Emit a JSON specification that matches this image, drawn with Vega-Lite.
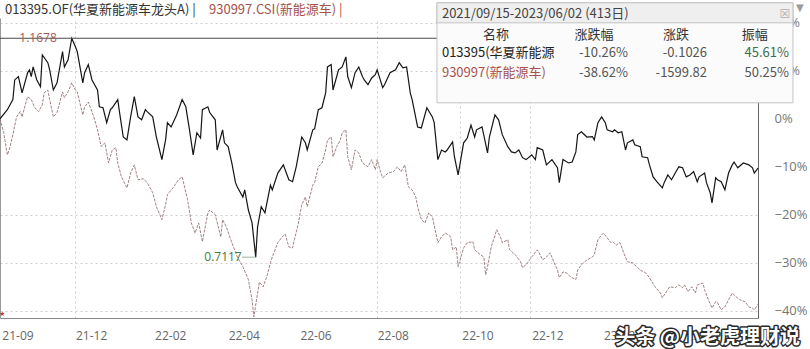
{
  "$schema": "https://vega.github.io/schema/vega-lite/v6.json",
  "width": 758,
  "height": 300,
  "autosize": {"type": "none"},
  "padding": {"left": 0, "top": 18, "right": 52, "bottom": 31},
  "background": "#ffffff",
  "config": {"view": {"stroke": null}, "font": "Noto Sans CJK SC"},
  "datasets": {
    "fund": [
      {"i":0,"v":1.0},{"i":4,"v":1.019},{"i":7,"v":1.04},{"i":8,"v":1.081},{"i":10,"v":1.088},{"i":12,"v":1.054},{"i":15,"v":1.096},{"i":16,"v":1.102},{"i":17,"v":1.088},{"i":18,"v":1.108},{"i":20,"v":1.081},{"i":22,"v":1.067},{"i":23,"v":1.133},{"i":26,"v":1.117},{"i":27,"v":1.102},{"i":29,"v":1.06},{"i":31,"v":1.075},{"i":34,"v":1.14},{"i":35,"v":1.108},{"i":37,"v":1.123},{"i":39,"v":1.1678},{"i":41,"v":1.15},{"i":42,"v":1.14},{"i":45,"v":1.075},{"i":46,"v":1.096},{"i":48,"v":1.113},{"i":50,"v":1.081},{"i":53,"v":1.06},{"i":54,"v":1.025},{"i":56,"v":1.023},{"i":58,"v":0.992},{"i":60,"v":1.019},{"i":61,"v":1.023},{"i":64,"v":1.04},{"i":65,"v":1.013},{"i":67,"v":0.962},{"i":69,"v":0.956},{"i":71,"v":1.004},{"i":73,"v":1.046},{"i":75,"v":1.004},{"i":77,"v":0.998},{"i":79,"v":1.019},{"i":80,"v":1.015},{"i":83,"v":1.004},{"i":85,"v":0.962},{"i":88,"v":0.915},{"i":90,"v":0.956},{"i":91,"v":0.992},{"i":93,"v":0.983},{"i":96,"v":1.008},{"i":99,"v":1.04},{"i":101,"v":1.025},{"i":103,"v":0.977},{"i":105,"v":0.925},{"i":107,"v":0.971},{"i":109,"v":0.96},{"i":110,"v":1.019},{"i":113,"v":1.025},{"i":114,"v":1.013},{"i":117,"v":0.998},{"i":118,"v":0.935},{"i":121,"v":0.977},{"i":122,"v":0.95},{"i":124,"v":0.942},{"i":126,"v":0.908},{"i":128,"v":0.867},{"i":129,"v":0.858},{"i":132,"v":0.837},{"i":133,"v":0.852},{"i":135,"v":0.81},{"i":137,"v":0.783},{"i":139,"v":0.7117},{"i":140,"v":0.775},{"i":142,"v":0.817},{"i":144,"v":0.804},{"i":147,"v":0.862},{"i":148,"v":0.852},{"i":151,"v":0.887},{"i":154,"v":0.904},{"i":155,"v":0.894},{"i":157,"v":0.873},{"i":159,"v":0.869},{"i":161,"v":0.9},{"i":164,"v":0.962},{"i":166,"v":0.95},{"i":167,"v":0.935},{"i":170,"v":0.977},{"i":171,"v":0.979},{"i":173,"v":1.019},{"i":175,"v":1.023},{"i":177,"v":1.054},{"i":178,"v":1.108},{"i":180,"v":1.113},{"i":181,"v":1.06},{"i":184,"v":1.102},{"i":186,"v":1.108},{"i":188,"v":1.129},{"i":189,"v":1.088},{"i":191,"v":1.065},{"i":193,"v":1.096},{"i":195,"v":1.108},{"i":197,"v":1.088},{"i":198,"v":1.081},{"i":200,"v":1.071},{"i":202,"v":1.085},{"i":204,"v":1.092},{"i":205,"v":1.102},{"i":208,"v":1.065},{"i":209,"v":1.071},{"i":212,"v":1.096},{"i":215,"v":1.102},{"i":217,"v":1.117},{"i":219,"v":1.106},{"i":221,"v":1.108},{"i":223,"v":1.054},{"i":224,"v":1.04},{"i":227,"v":0.983},{"i":229,"v":0.981},{"i":232,"v":1.023},{"i":235,"v":1.004},{"i":236,"v":0.992},{"i":238,"v":0.915},{"i":240,"v":0.935},{"i":242,"v":0.931},{"i":243,"v":0.935},{"i":246,"v":0.952},{"i":247,"v":0.921},{"i":249,"v":0.883},{"i":252,"v":0.95},{"i":254,"v":0.96},{"i":256,"v":0.987},{"i":258,"v":0.962},{"i":259,"v":0.977},{"i":262,"v":0.983},{"i":265,"v":0.929},{"i":266,"v":0.962},{"i":269,"v":1.008},{"i":271,"v":0.998},{"i":273,"v":0.967},{"i":276,"v":0.942},{"i":278,"v":0.931},{"i":280,"v":0.929},{"i":282,"v":0.935},{"i":284,"v":0.919},{"i":286,"v":0.915},{"i":289,"v":0.925},{"i":291,"v":0.915},{"i":292,"v":0.94},{"i":295,"v":0.935},{"i":297,"v":0.904},{"i":300,"v":0.915},{"i":303,"v":0.898},{"i":304,"v":0.867},{"i":306,"v":0.915},{"i":309,"v":0.908},{"i":311,"v":0.91},{"i":313,"v":0.931},{"i":314,"v":0.967},{"i":316,"v":0.973},{"i":319,"v":0.962},{"i":322,"v":0.963},{"i":323,"v":0.956},{"i":325,"v":0.992},{"i":327,"v":1.004},{"i":329,"v":0.992},{"i":330,"v":0.977},{"i":333,"v":0.973},{"i":334,"v":0.977},{"i":336,"v":0.971},{"i":338,"v":0.973},{"i":340,"v":0.935},{"i":341,"v":0.95},{"i":344,"v":0.956},{"i":345,"v":0.946},{"i":348,"v":0.942},{"i":349,"v":0.921},{"i":352,"v":0.919},{"i":353,"v":0.904},{"i":355,"v":0.879},{"i":357,"v":0.869},{"i":360,"v":0.856},{"i":361,"v":0.867},{"i":363,"v":0.883},{"i":365,"v":0.873},{"i":367,"v":0.887},{"i":369,"v":0.9},{"i":371,"v":0.898},{"i":373,"v":0.879},{"i":375,"v":0.883},{"i":377,"v":0.89},{"i":379,"v":0.869},{"i":380,"v":0.879},{"i":383,"v":0.887},{"i":384,"v":0.867},{"i":386,"v":0.846},{"i":387,"v":0.825},{"i":389,"v":0.877},{"i":390,"v":0.873},{"i":392,"v":0.869},{"i":394,"v":0.852},{"i":396,"v":0.887},{"i":398,"v":0.904},{"i":399,"v":0.91},{"i":401,"v":0.898},{"i":404,"v":0.908},{"i":407,"v":0.904},{"i":409,"v":0.898},{"i":410,"v":0.887},{"i":412,"v":0.8974}
    ],
    "idx": [
      {"i":0,"v":1.0},{"i":2,"v":0.971},{"i":4,"v":0.925},{"i":5,"v":0.935},{"i":7,"v":0.967},{"i":9,"v":1.004},{"i":11,"v":1.015},{"i":12,"v":1.004},{"i":14,"v":1.033},{"i":15,"v":1.046},{"i":17,"v":1.04},{"i":19,"v":1.023},{"i":21,"v":1.015},{"i":23,"v":1.029},{"i":24,"v":1.054},{"i":26,"v":1.06},{"i":27,"v":1.04},{"i":29,"v":1.004},{"i":31,"v":1.013},{"i":34,"v":1.056},{"i":35,"v":1.044},{"i":37,"v":1.056},{"i":39,"v":1.075},{"i":41,"v":1.06},{"i":42,"v":1.056},{"i":45,"v":1.008},{"i":46,"v":1.025},{"i":48,"v":1.035},{"i":51,"v":1.004},{"i":53,"v":0.977},{"i":55,"v":0.942},{"i":57,"v":0.95},{"i":59,"v":0.908},{"i":61,"v":0.935},{"i":63,"v":0.94},{"i":64,"v":0.908},{"i":66,"v":0.879},{"i":69,"v":0.856},{"i":71,"v":0.887},{"i":73,"v":0.904},{"i":75,"v":0.873},{"i":78,"v":0.875},{"i":80,"v":0.867},{"i":83,"v":0.846},{"i":85,"v":0.817},{"i":88,"v":0.79},{"i":90,"v":0.821},{"i":91,"v":0.842},{"i":94,"v":0.856},{"i":97,"v":0.873},{"i":99,"v":0.879},{"i":102,"v":0.831},{"i":104,"v":0.783},{"i":106,"v":0.762},{"i":108,"v":0.783},{"i":110,"v":0.744},{"i":113,"v":0.804},{"i":114,"v":0.81},{"i":117,"v":0.8},{"i":120,"v":0.754},{"i":121,"v":0.79},{"i":123,"v":0.775},{"i":126,"v":0.742},{"i":129,"v":0.712},{"i":132,"v":0.692},{"i":135,"v":0.665},{"i":137,"v":0.623},{"i":138,"v":0.5875},{"i":140,"v":0.637},{"i":141,"v":0.66},{"i":143,"v":0.65},{"i":145,"v":0.671},{"i":147,"v":0.7},{"i":148,"v":0.712},{"i":151,"v":0.742},{"i":153,"v":0.752},{"i":155,"v":0.76},{"i":157,"v":0.733},{"i":159,"v":0.731},{"i":160,"v":0.748},{"i":162,"v":0.779},{"i":164,"v":0.821},{"i":166,"v":0.837},{"i":167,"v":0.817},{"i":170,"v":0.862},{"i":171,"v":0.867},{"i":173,"v":0.9},{"i":175,"v":0.908},{"i":177,"v":0.935},{"i":178,"v":0.956},{"i":180,"v":0.962},{"i":181,"v":0.921},{"i":183,"v":0.942},{"i":185,"v":0.956},{"i":186,"v":0.971},{"i":188,"v":0.977},{"i":189,"v":0.921},{"i":191,"v":0.894},{"i":193,"v":0.935},{"i":195,"v":0.929},{"i":197,"v":0.908},{"i":200,"v":0.9},{"i":202,"v":0.915},{"i":204,"v":0.894},{"i":205,"v":0.915},{"i":207,"v":0.887},{"i":208,"v":0.877},{"i":211,"v":0.887},{"i":214,"v":0.89},{"i":216,"v":0.9},{"i":218,"v":0.89},{"i":220,"v":0.904},{"i":222,"v":0.858},{"i":224,"v":0.852},{"i":226,"v":0.837},{"i":227,"v":0.817},{"i":229,"v":0.79},{"i":231,"v":0.783},{"i":233,"v":0.804},{"i":235,"v":0.796},{"i":238,"v":0.742},{"i":240,"v":0.754},{"i":242,"v":0.762},{"i":245,"v":0.754},{"i":246,"v":0.727},{"i":248,"v":0.733},{"i":249,"v":0.692},{"i":252,"v":0.731},{"i":254,"v":0.742},{"i":257,"v":0.744},{"i":258,"v":0.727},{"i":261,"v":0.717},{"i":263,"v":0.712},{"i":264,"v":0.675},{"i":265,"v":0.692},{"i":267,"v":0.733},{"i":270,"v":0.769},{"i":272,"v":0.754},{"i":273,"v":0.742},{"i":276,"v":0.748},{"i":277,"v":0.727},{"i":280,"v":0.717},{"i":283,"v":0.702},{"i":284,"v":0.69},{"i":286,"v":0.696},{"i":289,"v":0.712},{"i":292,"v":0.727},{"i":293,"v":0.721},{"i":295,"v":0.706},{"i":297,"v":0.712},{"i":299,"v":0.721},{"i":301,"v":0.702},{"i":303,"v":0.685},{"i":304,"v":0.669},{"i":306,"v":0.681},{"i":308,"v":0.679},{"i":310,"v":0.671},{"i":313,"v":0.665},{"i":314,"v":0.685},{"i":316,"v":0.696},{"i":319,"v":0.706},{"i":322,"v":0.712},{"i":323,"v":0.717},{"i":325,"v":0.748},{"i":327,"v":0.758},{"i":328,"v":0.762},{"i":330,"v":0.752},{"i":332,"v":0.742},{"i":333,"v":0.744},{"i":335,"v":0.737},{"i":337,"v":0.742},{"i":339,"v":0.721},{"i":341,"v":0.702},{"i":344,"v":0.7},{"i":346,"v":0.692},{"i":348,"v":0.685},{"i":351,"v":0.679},{"i":353,"v":0.669},{"i":356,"v":0.65},{"i":359,"v":0.637},{"i":360,"v":0.627},{"i":363,"v":0.644},{"i":364,"v":0.65},{"i":367,"v":0.648},{"i":369,"v":0.654},{"i":371,"v":0.648},{"i":372,"v":0.654},{"i":374,"v":0.64},{"i":376,"v":0.65},{"i":378,"v":0.637},{"i":379,"v":0.654},{"i":382,"v":0.658},{"i":383,"v":0.644},{"i":385,"v":0.623},{"i":387,"v":0.606},{"i":389,"v":0.619},{"i":390,"v":0.617},{"i":392,"v":0.602},{"i":394,"v":0.608},{"i":396,"v":0.623},{"i":398,"v":0.637},{"i":399,"v":0.633},{"i":402,"v":0.623},{"i":405,"v":0.619},{"i":407,"v":0.608},{"i":409,"v":0.606},{"i":410,"v":0.602},{"i":412,"v":0.6138}
    ],
    "summary": [
      {"name":"013395(华夏新能源","pct":"-10.26%","chg":"-0.1026","amp":"45.61%"},
      {"name":"930997(新能源车)","pct":"-38.62%","chg":"-1599.82","amp":"50.25%"}
    ],
    "header": [
      {"period":"2021/09/15-2023/06/02 (413日)","c0":"名称","c1":"涨跌幅","c2":"涨跌","c3":"振幅","wm":"头条 @小老虎理财说"}
    ]
  },
  "layer": [
    {
      "data": {"name": "idx"},
      "mark": {"type": "line", "strokeWidth": 0.85, "strokeDash": [3, 1.2]},
      "encoding": {
        "x": {"field": "i", "type": "quantitative", "scale": {"domain": [0, 412], "nice": false, "zero": false},
              "axis": {"orient": "top", "values": [41, 205, 250, 288], "grid": true, "gridDash": [2, 3], "gridColor": "#cfcfcf", "labels": false, "ticks": false, "domain": false, "title": null, "zindex": 0}},
        "y": {"field": "v", "type": "quantitative", "scale": {"domain": [0.585, 1.21], "nice": false, "zero": false},
              "axis": {"orient": "left", "values": [0.6, 0.7, 0.8, 1.1, 1.2], "grid": true, "gridDash": [2, 3], "gridColor": "#cfcfcf", "labels": false, "ticks": false, "domain": true, "domainColor": "#9a9a9a", "title": null, "zindex": 0}},
        "color": {"datum": "930997.CSI(新能源车)", "type": "nominal",
                  "scale": {"domain": ["013395.OF(华夏新能源车龙头A)", "930997.CSI(新能源车)"], "range": ["#151515", "#8f6c6c"]},
                  "legend": {"orient": "none", "legendX": -8, "legendY": -15, "direction": "horizontal", "title": null, "padding": 0,
                             "symbolSize": 0, "symbolStrokeWidth": 0, "symbolOpacity": 0, "labelOffset": 0, "columnPadding": -13,
                             "labelFont": "Noto Sans CJK SC", "labelFontSize": 13, "labelColor": "#333333", "labelLimit": 0,
                             "labelExpr": "datum.label + ' |'",
                             "encode": {"labels": {"update": {"fill": {"signal": "indexof(datum.label, '930997') >= 0 ? '#a5524b' : '#333333'"}}}}}}
      }
    },
    {
      "data": {"name": "fund"},
      "mark": {"type": "line", "strokeWidth": 1.2},
      "encoding": {
        "x": {"field": "i", "type": "quantitative",
              "axis": {"orient": "bottom", "values": [1, 41, 84, 124, 163, 205, 251, 289, 328, 373, 411],
                       "labelExpr": "['21-09','21-12','22-02','22-04','22-06','22-08','22-10','22-12','23-02','23-04','23-06'][indexof([1,41,84,124,163,205,251,289,328,373,411], datum.value)]",
                       "labelAlign": "left", "labelPadding": 12, "labelFont": "Open Sans", "labelFontSize": 12, "labelColor": "#666666",
                       "grid": false, "ticks": false, "domain": true, "domainColor": "#8a8a8a", "title": null, "zindex": 0, "labelOverlap": false}},
        "y": {"field": "v", "type": "quantitative",
              "axis": {"orient": "right", "values": [0.6, 0.7, 0.8, 0.9, 1.0, 1.1, 1.2],
                       "labelExpr": "format((datum.value - 1) * 100, '.0f') + '%'",
                       "labelPadding": 16, "labelFont": "Open Sans", "labelFontSize": 13, "labelColor": "#777777",
                       "grid": false, "ticks": false, "domain": true, "domainColor": "#666666", "title": null, "zindex": 0, "labelOverlap": false}},
        "color": {"datum": "013395.OF(华夏新能源车龙头A)", "type": "nominal"}
      }
    },
    {
      "data": {"name": "fund"},
      "transform": [{"aggregate": [{"op": "max", "field": "v", "as": "mx"}]}],
      "mark": {"type": "rule", "color": "#4a4a4a", "strokeWidth": 1},
      "encoding": {"y": {"field": "mx", "type": "quantitative", "axis": null}}
    },
    {
      "data": {"name": "fund"},
      "transform": [{"joinaggregate": [{"op": "max", "field": "v", "as": "mx"}]}, {"filter": "datum.v == datum.mx"}],
      "mark": {"type": "text", "align": "right", "baseline": "middle", "dx": -15, "font": "Open Sans", "fontSize": 12, "color": "#a35a5a"},
      "encoding": {
        "x": {"field": "i", "type": "quantitative", "axis": null},
        "y": {"field": "v", "type": "quantitative", "axis": null},
        "text": {"field": "v", "type": "quantitative", "format": ".4f"}
      }
    },
    {
      "data": {"name": "fund"},
      "transform": [{"joinaggregate": [{"op": "min", "field": "v", "as": "mn"}]}, {"filter": "datum.v == datum.mn"}],
      "mark": {"type": "rule", "color": "#9fb09f", "strokeWidth": 1},
      "encoding": {
        "x": {"field": "i", "type": "quantitative", "axis": null},
        "x2": {"datum": 131.5},
        "y": {"field": "v", "type": "quantitative", "axis": null}
      }
    },
    {
      "data": {"name": "fund"},
      "transform": [{"joinaggregate": [{"op": "min", "field": "v", "as": "mn"}]}, {"filter": "datum.v == datum.mn"}],
      "mark": {"type": "text", "align": "right", "baseline": "middle", "dx": -14, "font": "Open Sans", "fontSize": 12, "color": "#3f7a3f"},
      "encoding": {
        "x": {"field": "i", "type": "quantitative", "axis": null},
        "y": {"field": "v", "type": "quantitative", "axis": null},
        "text": {"field": "v", "type": "quantitative", "format": ".4f"}
      }
    },
    {
      "data": {"name": "header"},
      "mark": {"type": "point", "shape": "M0,-1L0.29,-0.4L0.95,-0.31L0.47,0.15L0.59,0.81L0,0.5L-0.59,0.81L-0.47,0.15L-0.95,-0.31L-0.29,-0.4Z", "filled": true, "size": 22, "color": "#c83232", "opacity": 1},
      "encoding": {
        "x": {"datum": 1.2, "type": "quantitative", "axis": null},
        "y": {"datum": 0.5937, "type": "quantitative", "axis": null}
      }
    },
    {
      "data": {"name": "header"},
      "mark": {"type": "rect", "fill": "#fbfbfb", "stroke": "#c3c3c3", "strokeWidth": 1},
      "encoding": {
        "x": {"datum": 237.5, "type": "quantitative", "axis": null},
        "x2": {"datum": 431},
        "y": {"datum": 1.2417, "type": "quantitative", "axis": null},
        "y2": {"datum": 1.0333}
      }
    },
    {
      "data": {"name": "header"},
      "mark": {"type": "rect", "fill": "#efefef", "stroke": "#c3c3c3", "strokeWidth": 1},
      "encoding": {
        "x": {"datum": 237.5, "type": "quantitative", "axis": null},
        "x2": {"datum": 431},
        "y": {"datum": 1.2417, "type": "quantitative", "axis": null},
        "y2": {"datum": 1.2}
      }
    },
    {
      "data": {"name": "header"},
      "mark": {"type": "text", "align": "left", "baseline": "middle", "fontSize": 13, "color": "#444444"},
      "encoding": {
        "x": {"datum": 240.2, "type": "quantitative", "axis": null},
        "y": {"datum": 1.2188, "type": "quantitative", "axis": null},
        "text": {"field": "period"}
      }
    },
    {
      "data": {"name": "header"},
      "mark": {"type": "text", "align": "center", "baseline": "middle", "fontSize": 12, "font": "DejaVu Sans", "color": "#b0b0b0", "text": "☒"},
      "encoding": {
        "x": {"datum": 426.6, "type": "quantitative", "axis": null},
        "y": {"datum": 1.2188, "type": "quantitative", "axis": null}
      }
    },
    {
      "data": {"name": "header"},
      "mark": {"type": "text", "align": "center", "baseline": "middle", "fontSize": 10, "font": "DejaVu Sans", "color": "#9a9a9a", "text": "▼"},
      "encoding": {
        "x": {"datum": 434.8, "type": "quantitative", "axis": null},
        "y": {"datum": 1.2312, "type": "quantitative", "axis": null}
      }
    },
    {
      "data": {"name": "header"},
      "encoding": {"y": {"datum": 1.175, "type": "quantitative", "axis": null}},
      "layer": [
        {"mark": {"type": "text", "align": "center", "baseline": "middle", "fontSize": 13, "color": "#333333"},
         "encoding": {"x": {"datum": 269.6, "type": "quantitative", "axis": null}, "text": {"field": "c0"}}},
        {"mark": {"type": "text", "align": "center", "baseline": "middle", "fontSize": 13, "color": "#333333"},
         "encoding": {"x": {"datum": 322.8, "type": "quantitative", "axis": null}, "text": {"field": "c1"}}},
        {"mark": {"type": "text", "align": "center", "baseline": "middle", "fontSize": 13, "color": "#333333"},
         "encoding": {"x": {"datum": 367.4, "type": "quantitative", "axis": null}, "text": {"field": "c2"}}},
        {"mark": {"type": "text", "align": "center", "baseline": "middle", "fontSize": 13, "color": "#333333"},
         "encoding": {"x": {"datum": 410.3, "type": "quantitative", "axis": null}, "text": {"field": "c3"}}}
      ]
    },
    {
      "data": {"name": "summary"},
      "transform": [{"filter": "indexof(datum.name, '013395') == 0"}],
      "encoding": {"y": {"datum": 1.1375, "type": "quantitative", "axis": null}},
      "layer": [
        {"mark": {"type": "text", "align": "left", "baseline": "middle", "fontSize": 13, "color": "#222222"},
         "encoding": {"x": {"datum": 240.2, "type": "quantitative", "axis": null}, "text": {"field": "name"}}},
        {"mark": {"type": "text", "align": "right", "baseline": "middle", "fontSize": 13, "color": "#555555"},
         "encoding": {"x": {"datum": 341.3, "type": "quantitative", "axis": null}, "text": {"field": "pct"}}},
        {"mark": {"type": "text", "align": "right", "baseline": "middle", "fontSize": 13, "color": "#555555"},
         "encoding": {"x": {"datum": 384.3, "type": "quantitative", "axis": null}, "text": {"field": "chg"}}},
        {"mark": {"type": "text", "align": "right", "baseline": "middle", "fontSize": 13, "color": "#3f6b52"},
         "encoding": {"x": {"datum": 428.8, "type": "quantitative", "axis": null}, "text": {"field": "amp"}}}
      ]
    },
    {
      "data": {"name": "summary"},
      "transform": [{"filter": "indexof(datum.name, '930997') == 0"}],
      "encoding": {"y": {"datum": 1.0958, "type": "quantitative", "axis": null}},
      "layer": [
        {"mark": {"type": "text", "align": "left", "baseline": "middle", "fontSize": 13, "color": "#a5524b"},
         "encoding": {"x": {"datum": 240.2, "type": "quantitative", "axis": null}, "text": {"field": "name"}}},
        {"mark": {"type": "text", "align": "right", "baseline": "middle", "fontSize": 13, "color": "#555555"},
         "encoding": {"x": {"datum": 341.3, "type": "quantitative", "axis": null}, "text": {"field": "pct"}}},
        {"mark": {"type": "text", "align": "right", "baseline": "middle", "fontSize": 13, "color": "#555555"},
         "encoding": {"x": {"datum": 384.3, "type": "quantitative", "axis": null}, "text": {"field": "chg"}}},
        {"mark": {"type": "text", "align": "right", "baseline": "middle", "fontSize": 13, "color": "#555555"},
         "encoding": {"x": {"datum": 428.8, "type": "quantitative", "axis": null}, "text": {"field": "amp"}}}
      ]
    },
    {
      "data": {"name": "header"},
      "encoding": {
        "x": {"datum": 434.8, "type": "quantitative", "axis": null},
        "y": {"datum": 0.5437, "type": "quantitative", "axis": null},
        "text": {"field": "wm"}
      },
      "layer": [
        {"mark": {"type": "text", "align": "right", "baseline": "middle", "fontSize": 20, "fontWeight": "bold", "fill": "#2a2a2a", "stroke": "#2a2a2a", "strokeWidth": 3, "strokeJoin": "round"}},
        {"mark": {"type": "text", "align": "right", "baseline": "middle", "fontSize": 20, "fontWeight": "bold", "fill": "#ffffff"}}
      ]
    }
  ]
}
